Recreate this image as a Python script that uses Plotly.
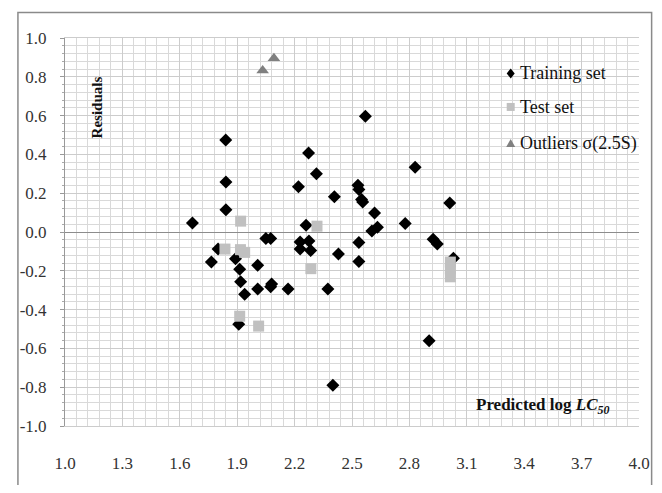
import plotly.graph_objects as go

# Training set (predicted log LC50, residual)
train_x = [1.666, 1.765, 1.80, 1.84, 1.841, 1.841, 1.891, 1.913, 1.918, 1.939, 1.908,
           2.007, 2.007, 2.050, 2.075, 2.080, 2.075, 2.166, 2.220, 2.229, 2.229, 2.260,
           2.273, 2.275, 2.284, 2.314, 2.374, 2.400, 2.408, 2.429, 2.531, 2.536, 2.536,
           2.536, 2.550, 2.556, 2.570, 2.604, 2.618, 2.633, 2.778, 2.830, 2.903, 2.924,
           2.946, 3.011, 3.030]
train_y = [0.047, -0.155, -0.088, 0.474, 0.258, 0.115, -0.138, -0.192, -0.257, -0.321, -0.475,
           -0.172, -0.294, -0.034, -0.034, -0.268, -0.282, -0.294, 0.233, -0.051, -0.088, 0.035,
           0.407, -0.046, -0.096, 0.300, -0.294, -0.790, 0.182, -0.113, 0.241, 0.219, -0.054,
           -0.152, 0.168, 0.155, 0.597, 0.005, 0.098, 0.025, 0.044, 0.334, -0.560, -0.037,
           -0.062, 0.149, -0.135]

# Test set
test_x = [1.836, 1.917, 1.939, 1.918, 2.285, 2.317, 1.913, 2.012, 3.014, 3.014, 3.014]
test_y = [-0.088, -0.091, -0.105, 0.056, -0.189, 0.030, -0.434, -0.485, -0.155, -0.19, -0.231]

# Outliers
out_x = [2.033, 2.092]
out_y = [0.832, 0.895]

x_ticks = [1.0, 1.3, 1.6, 1.9, 2.2, 2.5, 2.8, 3.1, 3.4, 3.7, 4.0]
y_ticks = [1.0, 0.8, 0.6, 0.4, 0.2, 0.0, -0.2, -0.4, -0.6, -0.8, -1.0]

legend_names = ["Training set", "Test set", "Outliers σ(2.5S)"]

FONT = "Liberation Serif, Times New Roman, serif"
C_TRAIN, C_TEST, C_OUT = "black", "#c0c0c0", "#808080"

fig = go.Figure()
fig.add_trace(go.Scatter(x=train_x, y=train_y, mode="markers", name=legend_names[0],
                         marker=dict(symbol="diamond", size=10, color=C_TRAIN)))
fig.add_trace(go.Scatter(x=test_x, y=test_y, mode="markers", name=legend_names[1],
                         marker=dict(symbol="square", size=11, color=C_TEST)))
fig.add_trace(go.Scatter(x=out_x, y=out_y, mode="markers", name=legend_names[2],
                         marker=dict(symbol="triangle-up", size=11, color=C_OUT)))

# manual legend (symbol shapes in pixel units + text annotations)
leg_x = 0.7765
leg_tx = 0.789
leg_y = [0.9086, 0.8223, 0.7284]
shapes = [
    dict(type="rect", xref="paper", yref="paper", x0=-0.082, x1=1.022, y0=-0.2, y1=1.066,
         line=dict(color="#8a8a8a", width=1.5), fillcolor="rgba(0,0,0,0)", layer="below"),
    dict(type="path", xref="paper", yref="paper", xsizemode="pixel", ysizemode="pixel",
         xanchor=leg_x, yanchor=leg_y[0], path="M 0 5 L 4 0 L 0 -5 L -4 0 Z",
         fillcolor=C_TRAIN, line=dict(width=0)),
    dict(type="rect", xref="paper", yref="paper", xsizemode="pixel", ysizemode="pixel",
         xanchor=leg_x, yanchor=leg_y[1], x0=-4, x1=4, y0=-4, y1=4,
         fillcolor=C_TEST, line=dict(width=0)),
    dict(type="path", xref="paper", yref="paper", xsizemode="pixel", ysizemode="pixel",
         xanchor=leg_x, yanchor=leg_y[2], path="M -4.5 -3.5 L 4.5 -3.5 L 0 4.5 Z",
         fillcolor=C_OUT, line=dict(width=0)),
]

annotations = [
    dict(text="<b>Residuals</b>", xref="paper", yref="paper", x=0.0375, y=0.905,
         textangle=-90, showarrow=False, font=dict(size=15, family=FONT, color="#111")),
    dict(text="<b>Predicted log <i>LC<sub>50</sub></i></b>", xref="paper", yref="paper",
         x=0.9505, y=0.052, xanchor="right", yanchor="middle", showarrow=False,
         font=dict(size=17, family=FONT, color="#111")),
]
for name, yy in zip(legend_names, leg_y):
    annotations.append(dict(text=name, xref="paper", yref="paper", x=leg_tx, y=yy,
                            xanchor="left", yanchor="middle", showarrow=False,
                            font=dict(size=18, family=FONT, color="#111")))

fig.update_layout(
    width=654, height=477,
    margin=dict(l=48, r=20, t=30, b=53),
    paper_bgcolor="white", plot_bgcolor="white",
    font=dict(family=FONT, size=17, color="#222"),
    showlegend=False,
    xaxis=dict(range=[1, 4], tickvals=x_ticks, ticktext=[f"{v:.1f}" for v in x_ticks],
               showgrid=True, gridcolor="#cccccc", gridwidth=1,
               minor=dict(dtick=0.06, tick0=1.0, showgrid=True, gridcolor="#d9d9d9", gridwidth=1),
               zeroline=False, showline=True, linecolor="#cccccc", mirror=True,
               ticks="", ticklabelstandoff=22, tickfont=dict(size=17, color="#333")),
    yaxis=dict(range=[-1, 1], tickvals=y_ticks, ticktext=[f"{v:.1f}" for v in y_ticks],
               showgrid=True, gridcolor="#cccccc", gridwidth=1,
               minor=dict(dtick=0.04, tick0=0, showgrid=True, gridcolor="#d9d9d9", gridwidth=1,
                          ticks="outside", ticklen=2, tickcolor="#aaa"),
               zeroline=True, zerolinecolor="#8c8c8c", zerolinewidth=1,
               showline=True, linecolor="#999", mirror=False,
               ticks="outside", ticklen=4, tickcolor="#999", ticklabelstandoff=10,
               tickfont=dict(size=17, color="#333")),
    shapes=shapes,
    annotations=annotations,
)

fig.write_html("out.html")
